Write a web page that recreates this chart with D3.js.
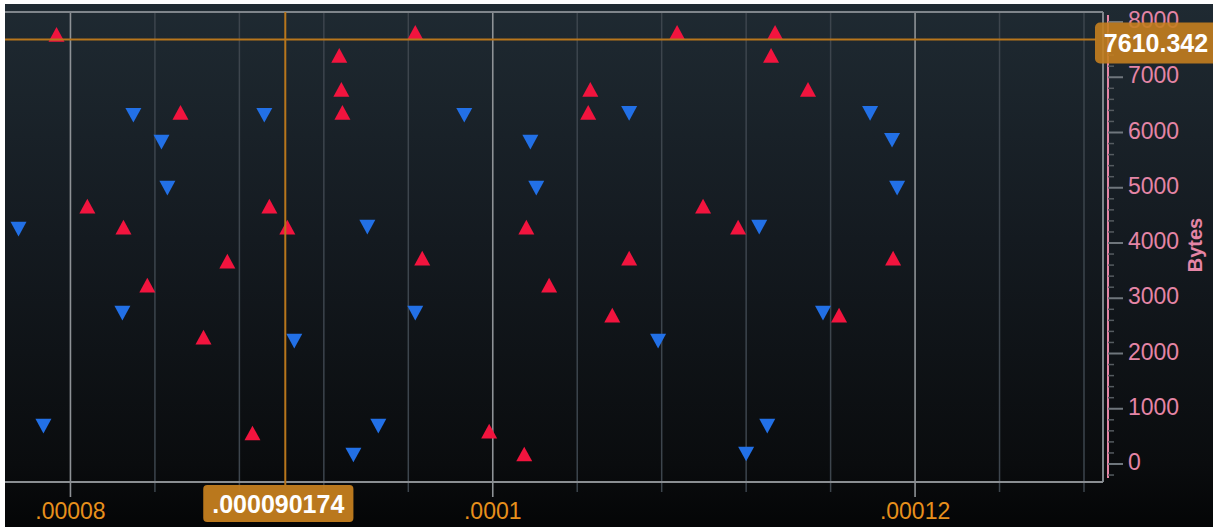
<!DOCTYPE html>
<html>
<head>
<meta charset="utf-8">
<script src="https://cdn.jsdelivr.net/npm/d3@7"></script>
<style>
  html, body { margin: 0; padding: 0; background: #ffffff; }
  svg { display: block; }
  text { font-family: "Liberation Sans", Arial, sans-serif; }
</style>
</head>
<body>
<svg id="chart" width="1213" height="529"></svg>
<script>
// ---------------- data ----------------
// Series 1 (red, up triangles): x = time (s), y = Bytes
const redX = [0.00007934, 0.00009273, 0.00009283, 0.00009288, 0.00008521, 0.00009633, 0.00010873, 0.00011337,
  0.00011318, 0.00010462, 0.00010452, 0.00011493, 0.00008080, 0.00008251, 0.00008942, 0.00009027,
  0.00008743, 0.00008364, 0.00008630, 0.00010996, 0.00010159, 0.00011162, 0.00009666, 0.00010646,
  0.00010267, 0.00010566, 0.00011896, 0.00011640, 0.00008862, 0.00009983, 0.00010149];
const redY = [7777, 7397, 6782, 6366, 6366, 7813, 7813, 7813,
  7397, 6782, 6366, 6782, 4666, 4286, 4666, 4286,
  3672, 3237, 2297, 4666, 4286, 4286, 3726, 3726,
  3237, 2695, 3726, 2695, 561, 597, 181];

// Series 2 (blue, down triangles)
const blueX = [0.00008298, 0.00008431, 0.00008918, 0.00009865, 0.00010178, 0.00010646, 0.00011787, 0.00011891,
  0.00008459, 0.00007754, 0.00009406, 0.00008246, 0.00009060, 0.00010206, 0.00011262, 0.00009633,
  0.00010783, 0.00011915, 0.00011564, 0.00007872, 0.00009340, 0.00009458, 0.00011200, 0.00011300];
const blueY = [6312, 5824, 6312, 6312, 5824, 6348, 6348, 5860,
  4992, 4250, 4286, 2731, 2225, 4992, 4286, 2731,
  2225, 4992, 2731, 687, 163, 687, 181, 687];

// axis ticks / labels
const xTickValues = [0.00008, 0.0001, 0.00012];
const xTickLabels = [".00008", ".0001", ".00012"];
const yTickValues = [0, 1000, 2000, 3000, 4000, 5000, 6000, 7000, 8000];
const yTickLabels = ["0", "1000", "2000", "3000", "4000", "5000", "6000", "7000", "8000"];
const yAxisTitle = "Bytes";
const cursorX = 0.000090174, cursorXLabel = ".000090174";
const cursorY = 7610.342, cursorYLabel = "7610.342";

// ---------------- layout ----------------
const plot = { left: 5, right: 1103, top: 12, bottom: 482 };
const svg = d3.select("#chart");

const x = d3.scaleLinear().domain([0.0000769, 0.0001289]).range([plot.left, plot.right]);
const y = d3.scaleLinear().domain([0, 8000]).range([464, 22]);

// background
const defs = svg.append("defs");
const grad = defs.append("linearGradient").attr("id", "bg").attr("x1", 0).attr("y1", 0).attr("x2", 0).attr("y2", 1);
grad.append("stop").attr("offset", "0%").attr("stop-color", "#1f2a32");
grad.append("stop").attr("offset", "45%").attr("stop-color", "#141a20");
grad.append("stop").attr("offset", "88%").attr("stop-color", "#0a0c0e");
grad.append("stop").attr("offset", "100%").attr("stop-color", "#040506");
svg.append("rect").attr("x", 5).attr("y", 4).attr("width", 1208).attr("height", 523).attr("fill", "url(#bg)");

defs.append("clipPath").attr("id", "plotclip").append("rect")
  .attr("x", plot.left).attr("y", plot.top).attr("width", plot.right - plot.left).attr("height", plot.bottom - plot.top);

// minor vertical gridlines (every 0.000004)
const minorX = d3.range(0.000076, 0.0001300001, 0.000004).filter(v => x(v) >= plot.left && x(v) <= plot.right - 4);
const isMajor = v => xTickValues.some(t => Math.abs(t - v) < 1e-9);
svg.append("g").selectAll("line").data(minorX.filter(v => !isMajor(v))).join("line")
  .attr("x1", d => x(d)).attr("x2", d => x(d))
  .attr("y1", plot.top).attr("y2", plot.bottom + 10)
  .attr("stroke", "#3d454d").attr("stroke-width", 1.5);
svg.append("g").selectAll("line").data(xTickValues).join("line")
  .attr("x1", d => x(d)).attr("x2", d => x(d))
  .attr("y1", plot.top).attr("y2", plot.bottom + 15)
  .attr("stroke", "#8e9296").attr("stroke-width", 1.6);

// frame: top, right, bottom
svg.append("line").attr("x1", plot.left).attr("x2", plot.right).attr("y1", plot.top).attr("y2", plot.top)
  .attr("stroke", "#7f858b").attr("stroke-width", 2);
svg.append("line").attr("x1", plot.right).attr("x2", plot.right).attr("y1", plot.top).attr("y2", plot.bottom)
  .attr("stroke", "#7f858b").attr("stroke-width", 2);
svg.append("line").attr("x1", plot.left).attr("x2", plot.right).attr("y1", plot.bottom).attr("y2", plot.bottom)
  .attr("stroke", "#8a8e92").attr("stroke-width", 2);

// x tick labels
svg.append("g").selectAll("text").data(xTickValues).join("text")
  .attr("x", d => x(d)).attr("y", 519)
  .attr("text-anchor", "middle")
  .attr("font-size", 23)
  .attr("fill", "#e8901c")
  .text((d, i) => xTickLabels[i]);

// right y axis
const axisX = 1108;
const pink = "#e585a6";
svg.append("line").attr("x1", axisX).attr("x2", axisX).attr("y1", 15).attr("y2", 478)
  .attr("stroke", pink).attr("stroke-width", 2);
const minorY = d3.range(-200, 8001, 200).filter(v => v % 1000 !== 0);
svg.append("g").selectAll("line").data(minorY).join("line")
  .attr("x1", axisX).attr("x2", axisX + 6)
  .attr("y1", d => y(d)).attr("y2", d => y(d))
  .attr("stroke", "#555b60").attr("stroke-width", 1.5);
svg.append("g").selectAll("line").data(yTickValues).join("line")
  .attr("x1", axisX).attr("x2", axisX + 15)
  .attr("y1", d => y(d)).attr("y2", d => y(d))
  .attr("stroke", "#6f767c").attr("stroke-width", 2);
svg.append("g").selectAll("text").data(yTickValues).join("text")
  .attr("x", 1128).attr("y", d => y(d) + 6)
  .attr("font-size", 23)
  .attr("fill", pink)
  .text((d, i) => yTickLabels[i]);
svg.append("text")
  .attr("transform", "translate(1202,245) rotate(-90)")
  .attr("text-anchor", "middle")
  .attr("font-size", 20).attr("font-weight", "bold")
  .attr("fill", pink)
  .text(yAxisTitle);

// symbols
const triUp = { draw(ctx, size) { const w = Math.sqrt(size), h = w * 0.92;
  ctx.moveTo(0, -h / 2); ctx.lineTo(w / 2, h / 2); ctx.lineTo(-w / 2, h / 2); ctx.closePath(); } };
const triDown = { draw(ctx, size) { const w = Math.sqrt(size), h = w * 0.92;
  ctx.moveTo(0, h / 2); ctx.lineTo(w / 2, -h / 2); ctx.lineTo(-w / 2, -h / 2); ctx.closePath(); } };

const gPts = svg.append("g").attr("clip-path", "url(#plotclip)");
gPts.selectAll("path.red").data(redX.map((v, i) => [v, redY[i]])).join("path")
  .attr("class", "red")
  .attr("transform", d => `translate(${x(d[0])},${y(d[1])})`)
  .attr("d", d3.symbol().type(triUp).size(256))
  .attr("fill", "#f2143e");
gPts.selectAll("path.blue").data(blueX.map((v, i) => [v, blueY[i]])).join("path")
  .attr("class", "blue")
  .attr("transform", d => `translate(${x(d[0])},${y(d[1])})`)
  .attr("d", d3.symbol().type(triDown).size(256))
  .attr("fill", "#2270e6");

// crosshair
const cx = x(cursorX), cy = y(cursorY);
svg.append("line").attr("x1", cx).attr("x2", cx).attr("y1", plot.top).attr("y2", plot.bottom + 3)
  .attr("stroke", "#b8761c").attr("stroke-width", 2);
svg.append("line").attr("x1", plot.left).attr("x2", 1096).attr("y1", cy - 4).attr("y2", cy - 4)
  .attr("stroke", "#b8761c").attr("stroke-width", 2);

// x cursor label
const xl = svg.append("g");
const xlt = xl.append("text").attr("x", cx - 7).attr("y", 513).attr("text-anchor", "middle")
  .attr("font-size", 25).attr("font-weight", "bold").attr("fill", "#ffffff").text(cursorXLabel);
const xb = xlt.node().getBBox();
xl.insert("rect", "text").attr("x", xb.x - 9).attr("y", 485).attr("width", xb.width + 18).attr("height", 37)
  .attr("rx", 4).attr("fill", "#c47e1f").attr("opacity", 0.95);

// y cursor label
const yl = svg.append("g");
yl.append("rect").attr("x", 1095).attr("y", cy - 21).attr("width", 122).attr("height", 41)
  .attr("rx", 5).attr("fill", "#c47e1f").attr("opacity", 0.9);
yl.append("text").attr("x", 1156).attr("y", cy + 8).attr("text-anchor", "middle")
  .attr("font-size", 25).attr("font-weight", "bold").attr("fill", "#ffffff").text(cursorYLabel);
</script>
</body>
</html>
